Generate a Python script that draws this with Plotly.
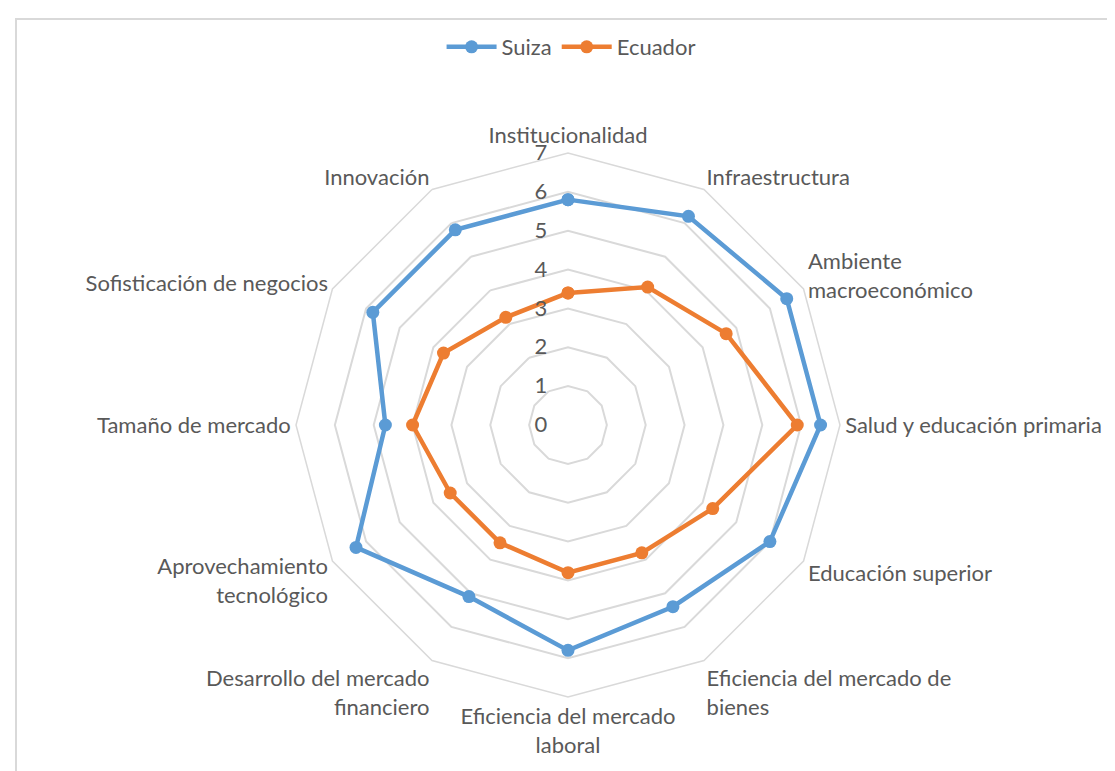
import plotly.graph_objects as go

categorias = [
    "Institucionalidad", "Infraestructura", "Ambiente<br>macroeconómico",
    "Salud y educación primaria", "Educación superior",
    "Eficiencia del mercado de<br>bienes", "Eficiencia del mercado<br>laboral",
    "Desarrollo del mercado<br>financiero", "Aprovechamiento<br>tecnológico",
    "Tamaño de mercado", "Sofisticación de negocios", "Innovación",
]
suiza = [5.8, 6.2, 6.5, 6.5, 6.0, 5.4, 5.8, 5.1, 6.3, 4.7, 5.8, 5.8]
ecuador = [3.4, 4.1, 4.7, 5.9, 4.3, 3.8, 3.8, 3.5, 3.5, 4.0, 3.7, 3.2]

W, H = 1115, 771
cx, cy, R = 560, 417, 272
txt = "#595959"
grid = "#d9d9d9"
font_fam = "Lato, 'Open Sans', sans-serif"

fig = go.Figure()
for name, vals, color in [("Suiza", suiza, "#5b9bd5"), ("Ecuador", ecuador, "#ed7d31")]:
    fig.add_trace(go.Scatterpolar(
        r=vals + vals[:1], theta=categorias + categorias[:1],
        mode="lines+markers", name=name,
        line=dict(color=color, width=4.5),
        marker=dict(color=color, size=13),
    ))

fig.update_layout(
    width=W, height=H,
    margin=dict(l=0, r=0, t=0, b=0),
    paper_bgcolor="white",
    font=dict(family=font_fam, color=txt, size=22),
    legend=dict(orientation="h", x=0.505, xanchor="center", y=1 - 39 / H, yanchor="middle",
                font=dict(size=22, color=txt), itemwidth=50),
    polar=dict(
        domain=dict(x=[(cx - R) / W, (cx + R) / W], y=[1 - (cy + R) / H, 1 - (cy - R) / H]),
        gridshape="linear",
        bgcolor="white",
        radialaxis=dict(range=[0, 7], dtick=1, angle=90, side="counterclockwise",
                        showline=False, gridcolor=grid, gridwidth=1.5,
                        ticks="", tickangle=90, ticksuffix="\u00a0" * 3,
                        tickfont=dict(size=22, color=txt)),
        angularaxis=dict(direction="clockwise", rotation=90, showgrid=False,
                         showline=True, linecolor=grid, linewidth=1.5, ticks="",
                         tickfont=dict(size=22, color=txt)),
    ),
    shapes=[dict(type="rect", xref="paper", yref="paper", x0=8 / W, x1=1.02,
                 y0=-0.02, y1=1 - 11 / H, line=dict(color=grid, width=2))],
)

fig.write_html("out.html")
